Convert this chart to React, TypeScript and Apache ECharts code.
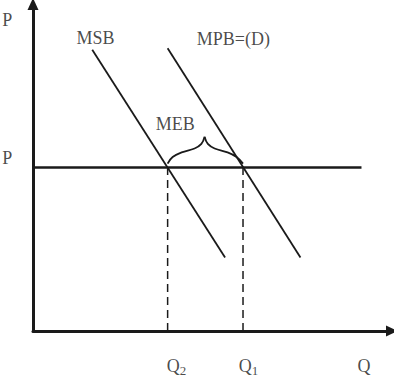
import React, { useEffect, useRef } from "react";
import * as echarts from "echarts";

// Quantities and price level (data units: Q 0–100, P 0–100)
const qLevels = [37.5, 58.5]; // Q2, Q1
const qNames = ["Q2", "Q1"];
const pLevel = 50;
const priceLineEnd = 91.5;

// Demand-type curves
const msbPoints = [
  [16.5, 86],
  [53.5, 22.5],
];
const mpbPoints = [
  [37.5, 86.5],
  [74.5, 22.5],
];

// Curly brace (MEB) between Q2 and Q1 at price P
const braceLeft = [
  [37.5, 51.2],
  [38.9, 53.2],
  [41.4, 54.6],
  [45.0, 55.8],
  [46.9, 57.2],
  [47.8, 59.4],
];
const braceRight = [
  [47.8, 59.4],
  [48.7, 57.2],
  [50.6, 55.8],
  [54.2, 54.6],
  [56.7, 53.2],
  [58.5, 51.2],
];

// Text labels
const labelTexts = ["P", "P", "MSB", "MPB=(D)", "MEB", "Q"];
const labelPos = [
  [-7.2, 95.1],
  [-7.2, 53],
  [17.4, 89.5],
  [55.8, 89.3],
  [39.6, 63.3],
  [92.2, -10.6],
];
const qLabelY = -10.8;
const qLabelX = [40, 60];

const FONT = "'Liberation Serif', 'Times New Roman', serif";
const INK = "#1a1a1a";

export default function App() {
  const ref = useRef<HTMLDivElement>(null);

  useEffect(() => {
    if (!ref.current) return;
    const chart = echarts.init(ref.current, null, { renderer: "svg" });

    const lineSeries = (data: number[][], extra: any = {}) => ({
      type: "line",
      data,
      showSymbol: false,
      symbol: "none",
      silent: true,
      animation: false,
      lineStyle: { color: INK, width: 1.8, ...(extra.lineStyle || {}) },
      smooth: extra.smooth || false,
      z: 3,
    });

    const textData = labelTexts.map((t, i) => ({
      value: labelPos[i],
      label: { formatter: t },
    }));
    const qData = qNames.map((n, i) => ({
      value: [qLabelX[i], qLabelY],
      label: { formatter: `{q|Q}{s|${n.slice(1)}}` },
    }));

    const axisLine = {
      show: true,
      onZero: false,
      symbol: ["none", "triangle"],
      symbolSize: [11, 12],
      lineStyle: { color: INK, width: 3 },
    };

    chart.setOption({
      animation: false,
      grid: { left: 33, right: 2, top: 4, bottom: 46, containLabel: false },
      xAxis: {
        type: "value",
        min: 0,
        max: 100,
        axisLine,
        axisTick: { show: false },
        axisLabel: { show: false },
        splitLine: { show: false },
      },
      yAxis: {
        type: "value",
        min: 0,
        max: 100,
        axisLine,
        axisTick: { show: false },
        axisLabel: { show: false },
        splitLine: { show: false },
      },
      series: [
        lineSeries(msbPoints),
        lineSeries(mpbPoints),
        lineSeries(
          [
            [0, pLevel],
            [priceLineEnd, pLevel],
          ],
          { lineStyle: { width: 2.4 } }
        ),
        ...qLevels.map((q) =>
          lineSeries(
            [
              [q, 0],
              [q, pLevel],
            ],
            { lineStyle: { width: 1.5, type: [8, 5] } }
          )
        ),
        lineSeries(braceLeft, { smooth: 0.4 }),
        lineSeries(braceRight, { smooth: 0.4 }),
        {
          type: "scatter",
          data: textData,
          symbolSize: 0,
          clip: false,
          silent: true,
          label: {
            show: true,
            position: "inside",
            color: INK,
            fontFamily: FONT,
            fontSize: 18,
          },
        },
        {
          type: "scatter",
          data: qData,
          symbolSize: 0,
          clip: false,
          silent: true,
          label: {
            show: true,
            position: "inside",
            color: INK,
            fontFamily: FONT,
            rich: {
              q: { fontFamily: FONT, fontSize: 18, color: INK },
              s: {
                fontFamily: FONT,
                fontSize: 13,
                color: INK,
                padding: [9, 0, 0, 0],
              },
            },
          },
        },
      ],
    });

    return () => chart.dispose();
  }, []);

  return (
    <div
      ref={ref}
      style={{
        position: "fixed",
        left: 0,
        top: 0,
        width: 394,
        height: 377,
        background: "#fff",
      }}
    />
  );
}
